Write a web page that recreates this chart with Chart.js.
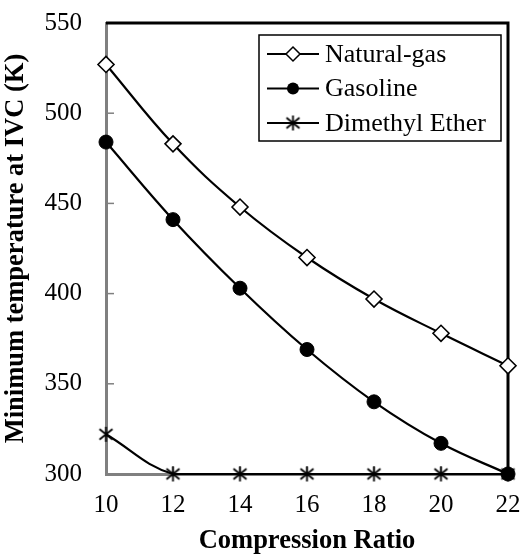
<!DOCTYPE html>
<html>
<head>
<meta charset="utf-8">
<script src="https://cdn.jsdelivr.net/npm/chart.js@4/dist/chart.umd.min.js"></script>
<style>
  html, body { margin: 0; padding: 0; background: #fff; }
  #wrap { width: 525px; height: 557px; }
</style>
</head>
<body>
<div id="wrap"><canvas id="ivcChart" width="525" height="557"></canvas></div>
<script>
const compressionRatio = [10, 12, 14, 16, 18, 20, 22];
const naturalGas = [527, 483, 448, 420, 397, 378, 360];
const gasoline = [484, 441, 403, 369, 340, 317, 300];
const dimethylEther = [322, 300, 300, 300, 300, 300, 300];
const yTicks = [300, 350, 400, 450, 500, 550];

const SERIF = '"Liberation Serif", "Times New Roman", serif';

// six-armed asterisk marker
function makeAsterisk(size) {
    const c = document.createElement('canvas');
    c.width = size; c.height = size;
    const g = c.getContext('2d');
    const m = size / 2, r = size / 2 - 1;
    g.strokeStyle = '#000';
    g.lineWidth = 1.8;
    g.beginPath();
    g.moveTo(m, m - r); g.lineTo(m, m + r);
    g.moveTo(m - r * 0.87, m - r * 0.7); g.lineTo(m + r * 0.87, m + r * 0.7);
    g.moveTo(m - r * 0.87, m + r * 0.7); g.lineTo(m + r * 0.87, m - r * 0.7);
    g.stroke();
    return c;
}
const asterisk = makeAsterisk(17);

const toPoints = ys => compressionRatio.map((x, i) => ({ x: x, y: ys[i] }));

const frame = {
    id: 'frame',
    beforeDatasetsDraw(chart) {
        const { ctx, chartArea: a, scales } = chart;
        ctx.save();
        // inward ticks on the gray axes
        ctx.strokeStyle = '#808080';
        ctx.lineWidth = 1.5;
        yTicks.forEach(v => {
            const y = scales.y.getPixelForValue(v);
            ctx.beginPath(); ctx.moveTo(a.left, y); ctx.lineTo(a.left + 8, y); ctx.stroke();
        });
        compressionRatio.forEach(v => {
            const x = scales.x.getPixelForValue(v);
            ctx.beginPath(); ctx.moveTo(x, a.bottom); ctx.lineTo(x, a.bottom - 8); ctx.stroke();
        });
        // black top and right frame
        ctx.strokeStyle = '#000';
        ctx.lineWidth = 3;
        ctx.beginPath();
        ctx.moveTo(a.left, a.top);
        ctx.lineTo(a.right, a.top);
        ctx.lineTo(a.right, a.bottom);
        ctx.stroke();
        ctx.restore();
    },
    afterDraw(chart) {
        const ctx = chart.ctx;
        const bx = 259, by = 35, bw = 242, bh = 106;
        ctx.save();
        ctx.fillStyle = '#fff';
        ctx.fillRect(bx, by, bw, bh);
        ctx.strokeStyle = '#000';
        ctx.lineWidth = 1.5;
        ctx.strokeRect(bx, by, bw, bh);
        ctx.font = '26px ' + SERIF;
        ctx.textBaseline = 'middle';
        ctx.fillStyle = '#000';
        chart.data.datasets.forEach((ds, i) => {
            const y = by + 19 + i * 34.5;
            ctx.strokeStyle = '#000';
            ctx.lineWidth = 2;
            ctx.beginPath(); ctx.moveTo(267, y); ctx.lineTo(319, y); ctx.stroke();
            const cx = 293;
            if (ds.pointStyle === 'rectRot') {
                ctx.beginPath();
                ctx.moveTo(cx, y - 7); ctx.lineTo(cx + 7, y); ctx.lineTo(cx, y + 7); ctx.lineTo(cx - 7, y);
                ctx.closePath();
                ctx.fillStyle = '#fff'; ctx.fill();
                ctx.lineWidth = 1.5; ctx.stroke();
            } else if (ds.pointStyle === 'circle') {
                ctx.beginPath(); ctx.arc(cx, y, 6, 0, Math.PI * 2);
                ctx.fillStyle = '#000'; ctx.fill();
            } else {
                ctx.drawImage(ds.pointStyle, cx - 8.5, y - 8.5);
            }
            ctx.fillStyle = '#000';
            ctx.fillText(ds.label, 325, y + 1);
        });
        ctx.restore();
    }
};

new Chart(document.getElementById('ivcChart').getContext('2d'), {
    type: 'line',
    data: {
        datasets: [
            {
                label: 'Natural-gas',
                data: toPoints(naturalGas),
                borderColor: '#000',
                borderWidth: 2.2,
                tension: 0.4,
                pointStyle: 'rectRot',
                pointRadius: 8,
                pointBackgroundColor: '#fff',
                pointBorderColor: '#000',
                pointBorderWidth: 1.6
            },
            {
                label: 'Gasoline',
                data: toPoints(gasoline),
                borderColor: '#000',
                borderWidth: 2.2,
                tension: 0.4,
                pointStyle: 'circle',
                pointRadius: 7,
                pointBackgroundColor: '#000',
                pointBorderColor: '#000',
                pointBorderWidth: 1
            },
            {
                label: 'Dimethyl Ether',
                data: toPoints(dimethylEther),
                borderColor: '#000',
                borderWidth: 2.2,
                tension: 0.4,
                pointStyle: asterisk,
                pointRadius: 8
            }
        ]
    },
    options: {
        responsive: false,
        animation: false,
        clip: false,
        layout: { padding: { top: 23, right: 17, left: 0, bottom: 0 } },
        plugins: {
            legend: { display: false },
            tooltip: { enabled: false }
        },
        scales: {
            x: {
                type: 'linear',
                min: 10,
                max: 22,
                afterBuildTicks: s => { s.ticks = compressionRatio.map(v => ({ value: v })); },
                afterFit: s => { s.height = 83; s.paddingLeft = 0; s.paddingRight = 0; },
                grid: { display: false, drawTicks: false },
                border: { display: true, color: '#808080', width: 3 },
                ticks: { color: '#000', padding: 16, maxRotation: 0, font: { family: SERIF, size: 25 } },
                title: {
                    display: true,
                    text: 'Compression Ratio',
                    color: '#000',
                    padding: { top: 10, bottom: 0 },
                    font: { family: SERIF, size: 26.5, weight: 'bold' }
                }
            },
            y: {
                min: 300,
                max: 550,
                afterBuildTicks: s => { s.ticks = yTicks.map(v => ({ value: v })); },
                afterFit: s => { s.width = 106; s.paddingTop = 0; s.paddingBottom = 0; },
                grid: { display: false, drawTicks: false },
                border: { display: true, color: '#808080', width: 3 },
                ticks: { color: '#000', padding: 24, font: { family: SERIF, size: 25 } },
                title: {
                    display: true,
                    text: 'Minimum temperature at IVC (K)',
                    color: '#000',
                    padding: { top: 0, bottom: 2 },
                    font: { family: SERIF, size: 26.5, weight: 'bold' }
                }
            }
        }
    },
    plugins: [frame]
});
</script>
</body>
</html>
